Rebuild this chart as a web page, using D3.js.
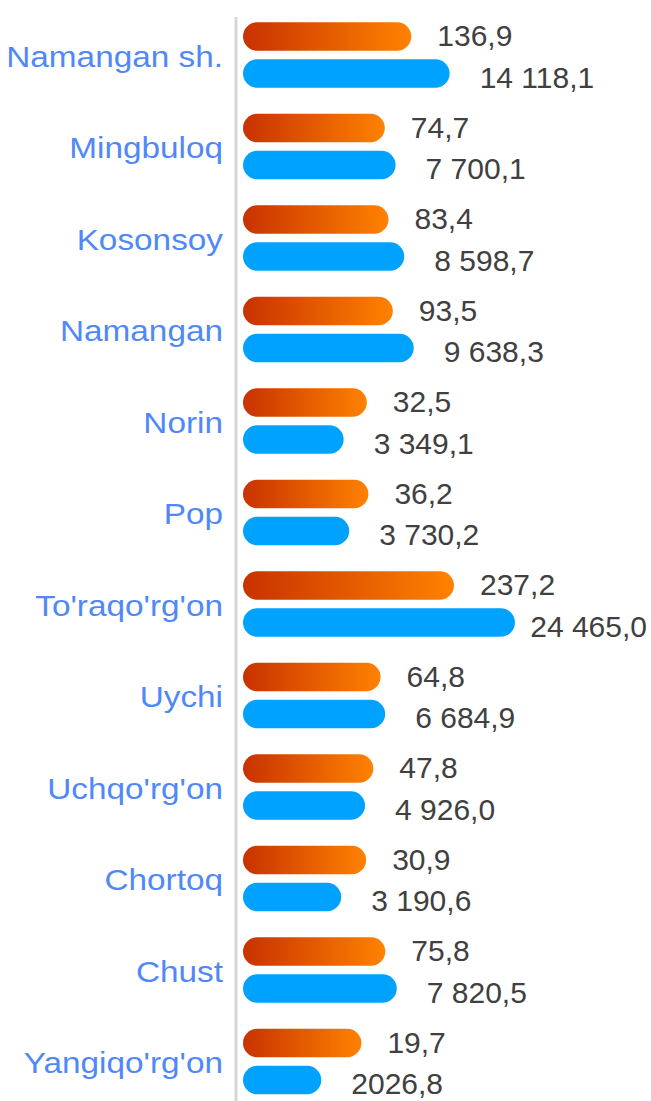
<!DOCTYPE html>
<html>
<head>
<meta charset="utf-8">
<script src="https://cdn.jsdelivr.net/npm/d3@7"></script>
<style>
  html, body { margin: 0; padding: 0; background: #ffffff; }
  svg { display: block; }
</style>
</head>
<body>
<div id="chart"></div>
<script>
// ---- data ----
const categories = ["Namangan sh.", "Mingbuloq", "Kosonsoy", "Namangan", "Norin", "Pop",
  "To'raqo'rg'on", "Uychi", "Uchqo'rg'on", "Chortoq", "Chust", "Yangiqo'rg'on"];
const orangeValues = [136.9, 74.7, 83.4, 93.5, 32.5, 36.2, 237.2, 64.8, 47.8, 30.9, 75.8, 19.7];
const blueValues = [14118.1, 7700.1, 8598.7, 9638.3, 3349.1, 3730.2, 24465.0, 6684.9, 4926.0, 3190.6, 7820.5, 2026.8];
const orangeLabels = ["136,9", "74,7", "83,4", "93,5", "32,5", "36,2", "237,2", "64,8", "47,8", "30,9", "75,8", "19,7"];
const blueLabels = ["14 118,1", "7 700,1", "8 598,7", "9 638,3", "3 349,1", "3 730,2", "24 465,0", "6 684,9", "4 926,0", "3 190,6", "7 820,5", "2026,8"];
const seriesKeys = ["orange", "blue"];

// ---- layout ----
const W = 651, H = 1101;
const axisX = 236, barX0 = 243;

const svg = d3.select("#chart").append("svg")
  .attr("width", W).attr("height", H)
  .style("font-family", "Arial, 'Liberation Sans', sans-serif");

const defs = svg.append("defs");
const grad = defs.append("linearGradient").attr("id", "gradOrange")
  .attr("x1", "0%").attr("x2", "100%").attr("y1", "0%").attr("y2", "0%");
grad.append("stop").attr("offset", "0%").attr("stop-color", "#c83200");
grad.append("stop").attr("offset", "100%").attr("stop-color", "#ff8200");

const y = d3.scaleBand().domain(categories).range([9.25, 1107.25]).padding(0);
const yInner = d3.scaleBand().domain(seriesKeys).range([13, 78.5]).paddingInner(0.23).paddingOuter(0);

const xOrange = d3.scaleLinear().domain([0, d3.max(orangeValues)]).range([110, 211]);
const xBlue = d3.scaleSqrt().domain([0, d3.max(blueValues)]).range([0, 272]);

const rows = categories.map((c, i) => ({
  cat: c, o: orangeValues[i], b: blueValues[i], ol: orangeLabels[i], bl: blueLabels[i]
}));

// axis line
svg.append("line")
  .attr("x1", axisX).attr("x2", axisX).attr("y1", 17).attr("y2", H)
  .attr("stroke", "#d6d6d6").attr("stroke-width", 3);

// category labels via axis
const labelScale = 1.13;
const ax = svg.append("g").attr("transform", `translate(${axisX},0)`)
  .call(d3.axisLeft(y).tickSize(0).tickPadding(0));
ax.select(".domain").remove();
ax.selectAll(".tick text")
  .attr("x", -13 / labelScale)
  .attr("dy", "0.4em")
  .attr("transform", `scale(${labelScale},1)`)
  .style("font-size", "29.5px")
  .style("font-family", "Arial, 'Liberation Sans', sans-serif")
  .attr("fill", "#5088f8");

const g = svg.append("g");
const bh = yInner.bandwidth();

const row = g.selectAll("g.row").data(rows).enter().append("g")
  .attr("class", "row")
  .attr("transform", d => `translate(0,${y(d.cat)})`);

// orange bars
row.append("rect")
  .attr("x", barX0)
  .attr("y", yInner("orange"))
  .attr("width", d => xOrange(d.o))
  .attr("height", bh)
  .attr("rx", bh / 2).attr("ry", bh / 2)
  .attr("fill", "url(#gradOrange)");

// blue bars
row.append("rect")
  .attr("x", barX0)
  .attr("y", yInner("blue"))
  .attr("width", d => xBlue(d.b))
  .attr("height", bh)
  .attr("rx", bh / 2).attr("ry", bh / 2)
  .attr("fill", "#00a2ff");

// value labels
row.append("text")
  .attr("x", d => barX0 + xOrange(d.o) + 26)
  .attr("y", yInner("orange") + bh / 2 + 10)
  .attr("fill", "#404040")
  .style("font-size", "30px")
  .text(d => d.ol);

row.append("text")
  .attr("y", yInner("blue") + bh / 2 + 14)
  .attr("fill", "#404040")
  .style("font-size", "30px")
  .text(d => d.bl)
  .attr("x", function(d) {
    const tw = this.getComputedTextLength();
    const want = barX0 + xBlue(d.b) + 30;
    return Math.min(want, W - 4 - tw);
  });
</script>
</body>
</html>
